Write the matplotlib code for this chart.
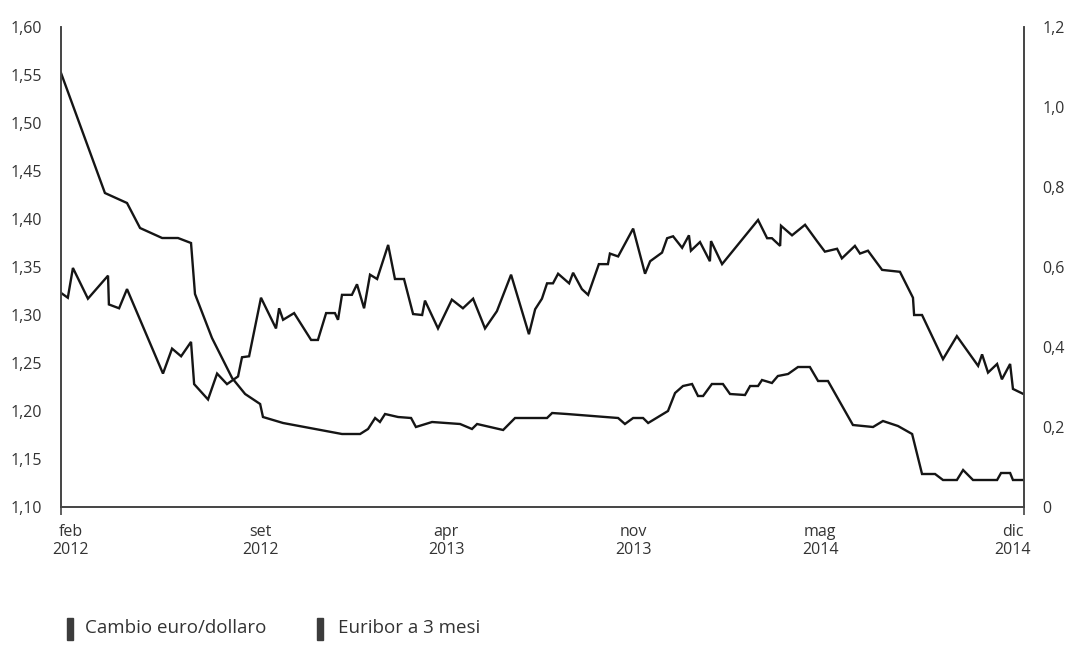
import matplotlib
matplotlib.use("Agg")
import matplotlib.pyplot as plt
from matplotlib.patches import Rectangle

plt.rcParams['font.family'] = ['Open Sans', 'DejaVu Sans']

# mesi da feb 2012 (0) a dic 2014 (34)
cambio_x = [0, 0.24, 0.42, 0.95, 1.66, 1.69, 2.05, 2.33, 3.60, 3.92, 4.24, 4.59, 4.70, 5.19,
            5.51, 5.86, 6.25, 6.39, 6.64, 7.06, 7.59, 7.70, 7.84, 8.23, 8.83, 9.07, 9.36,
            9.67, 9.78, 9.92, 10.27, 10.45, 10.70, 10.91, 11.16, 11.55, 11.79, 12.11, 12.43,
            12.75, 12.85, 13.31, 13.80, 14.19, 14.55, 14.97, 15.39, 15.89, 16.52, 16.74,
            16.98, 17.16, 17.37, 17.55, 17.94, 18.08, 18.39, 18.61, 18.99, 19.31, 19.38,
            19.67, 20.20, 20.62, 20.80, 21.22, 21.40, 21.61, 21.93, 22.17, 22.24, 22.56,
            22.91, 22.95, 23.34, 24.61, 24.93, 25.10, 25.39, 25.42, 25.81, 26.27, 26.69,
            26.97, 27.40, 27.57, 28.03, 28.21, 28.49, 28.99, 29.62, 30.08, 30.12, 30.40,
            31.14, 31.63, 32.38, 32.52, 32.73, 33.05, 33.22, 33.51, 33.61, 33.96]
cambio = [1.323, 1.318, 1.349, 1.317, 1.341, 1.311, 1.307, 1.327, 1.239, 1.265, 1.257, 1.272,
          1.228, 1.212, 1.239, 1.228, 1.236, 1.256, 1.257, 1.318, 1.286, 1.307, 1.295, 1.302,
          1.274, 1.274, 1.302, 1.302, 1.295, 1.321, 1.321, 1.332, 1.307, 1.342, 1.3375, 1.373,
          1.3375, 1.3375, 1.301, 1.300, 1.315, 1.286, 1.316, 1.307, 1.317, 1.286, 1.304,
          1.342, 1.280, 1.306, 1.317, 1.333, 1.333, 1.343, 1.333, 1.344, 1.327, 1.321, 1.353,
          1.353, 1.364, 1.361, 1.390, 1.343, 1.356, 1.365, 1.380, 1.382, 1.370, 1.383, 1.367,
          1.376, 1.356, 1.377, 1.353, 1.399, 1.380, 1.380, 1.372, 1.393, 1.383, 1.394, 1.377,
          1.366, 1.369, 1.359, 1.372, 1.364, 1.367, 1.347, 1.345, 1.318, 1.300, 1.300, 1.254,
          1.278, 1.247, 1.259, 1.240, 1.249, 1.233, 1.249, 1.223, 1.218]

euribor_x = [0, 1.55, 2.33, 2.79, 3.57, 4.13, 4.59, 4.73, 5.33, 6.04, 6.50, 7.03, 7.13, 7.84,
             9.92, 10.56, 10.84, 11.09, 11.26, 11.44, 11.90, 12.36, 12.53, 13.10, 14.09,
             14.51, 14.69, 15.61, 16.03, 17.16, 17.34, 17.86, 19.67, 19.91, 20.20, 20.55,
             20.73, 21.43, 21.68, 21.96, 22.28, 22.49, 22.67, 22.98, 23.37, 23.62, 24.15,
             24.33, 24.61, 24.75, 25.10, 25.31, 25.67, 26.02, 26.44, 26.73, 27.08, 27.96,
             28.67, 29.02, 29.55, 30.05, 30.40, 30.86, 31.14, 31.63, 31.85, 32.20, 33.05,
             33.19, 33.51, 33.61, 33.96]
euribor = [1.085, 0.785, 0.76, 0.6975, 0.6725, 0.6725, 0.66, 0.5325, 0.4225, 0.3225, 0.2825,
           0.2575, 0.225, 0.21, 0.1825, 0.1825, 0.195, 0.2225, 0.2125, 0.2325, 0.225, 0.2225,
           0.20, 0.2125, 0.2075, 0.195, 0.2075, 0.1925, 0.2225, 0.2225, 0.235, 0.2325, 0.2225,
           0.2075, 0.2225, 0.2225, 0.21, 0.24, 0.285, 0.3025, 0.3075, 0.2775, 0.2775, 0.3075,
           0.3075, 0.2825, 0.28, 0.3025, 0.3025, 0.3175, 0.31, 0.3275, 0.3325, 0.35, 0.35,
           0.315, 0.315, 0.205, 0.20, 0.215, 0.2025, 0.1825, 0.0825, 0.0825, 0.0675, 0.0675,
           0.0925, 0.0675, 0.0675, 0.085, 0.085, 0.0675, 0.0675]

xtick_pos = [0.35, 7.03, 13.6, 20.2, 26.8, 33.6]
xtick_lab = ['feb\n2012', 'set\n2012', 'apr\n2013', 'nov\n2013', 'mag\n2014', 'dic\n2014']
left_ticks = [1.10, 1.15, 1.20, 1.25, 1.30, 1.35, 1.40, 1.45, 1.50, 1.55, 1.60]
right_ticks = [0, 0.2, 0.4, 0.6, 0.8, 1.0, 1.2]
right_lab = ['0', '0,2', '0,4', '0,6', '0,8', '1,0', '1,2']

txt = '#333333'
line = '#151515'

fig = plt.figure(figsize=(10.65, 6.51), dpi=100)
ax = fig.add_axes([0.0573, 0.2212, 0.9042, 0.7373])
ax2 = ax.twinx()

ax.plot(cambio_x, cambio, color=line, lw=1.7, solid_joinstyle='miter')
ax2.plot(euribor_x, euribor, color=line, lw=1.7, solid_joinstyle='miter')

ax.set_xlim(0, 34)
ax.set_ylim(1.10, 1.60)
ax2.set_ylim(0, 1.2)

ax.set_yticks(left_ticks)
ax.set_yticklabels([('%.2f' % v).replace('.', ',') for v in left_ticks])
ax2.set_yticks(right_ticks)
ax2.set_yticklabels(right_lab)
ax.set_xticks(xtick_pos)
ax.set_xticklabels(xtick_lab, linespacing=1.2)
ax.set_xticks([0, 34], minor=True)

ax.tick_params(axis='y', length=0, pad=14, labelsize=11.5, labelcolor=txt)
ax2.tick_params(axis='y', length=0, pad=13, labelsize=11.5, labelcolor=txt)
ax.tick_params(axis='x', which='major', length=0, pad=12, labelsize=11.5, labelcolor=txt)
ax.tick_params(axis='x', which='minor', length=6, width=1.2, color='#444444')

for a in (ax, ax2):
    a.spines['top'].set_visible(False)
    for s in ('left', 'right', 'bottom'):
        a.spines[s].set_color('#444444')
        a.spines[s].set_linewidth(1.2)

# legenda in basso
fig.add_artist(Rectangle((67 / 1065, 1 - 640 / 651), 6 / 1065, 22 / 651,
                         transform=fig.transFigure, color='#3c3c3c'))
fig.text(85 / 1065, 1 - 628 / 651, 'Cambio euro/dollaro', fontsize=13.5, color=txt, va='center')
fig.add_artist(Rectangle((317 / 1065, 1 - 640 / 651), 6 / 1065, 22 / 651,
                         transform=fig.transFigure, color='#3c3c3c'))
fig.text(338 / 1065, 1 - 628 / 651, 'Euribor a 3 mesi', fontsize=13.5, color=txt, va='center')

plt.savefig('out.png', dpi=100)
